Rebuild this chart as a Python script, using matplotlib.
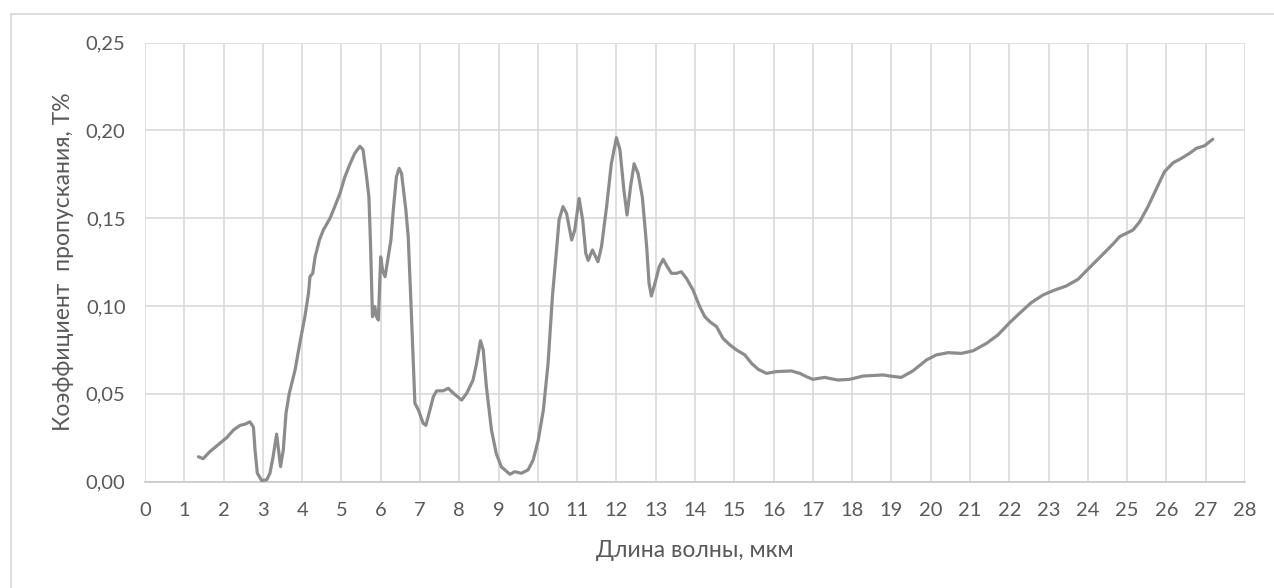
import matplotlib
matplotlib.use("Agg")
import matplotlib.pyplot as plt
from matplotlib.lines import Line2D

plt.rcParams['font.family'] = ['Lato', 'DejaVu Sans']

wavelength = [1.36, 1.48, 1.65, 1.91, 2.08, 2.25, 2.42, 2.54, 2.67, 2.76, 2.80, 2.86, 2.97, 3.10,
              3.18, 3.26, 3.35, 3.41, 3.45, 3.52, 3.59, 3.67, 3.82, 3.94, 4.07, 4.16, 4.20, 4.27,
              4.33, 4.44, 4.54, 4.71, 4.83, 4.96, 5.09, 5.22, 5.34, 5.47, 5.55, 5.64, 5.70, 5.74,
              5.79, 5.85, 5.89, 5.94, 6.00, 6.05, 6.11, 6.19, 6.26, 6.32, 6.40, 6.47, 6.53, 6.64,
              6.70, 6.77, 6.83, 6.87, 6.96, 7.08, 7.15, 7.25, 7.34, 7.42, 7.59, 7.72, 7.85, 8.06,
              8.19, 8.35, 8.44, 8.54, 8.61, 8.69, 8.82, 8.94, 9.07, 9.16, 9.29, 9.41, 9.58, 9.75,
              9.88, 10.01, 10.14, 10.26, 10.37, 10.46, 10.54, 10.64, 10.73, 10.86, 10.94, 11.05,
              11.14, 11.22, 11.28, 11.39, 11.53, 11.62, 11.75, 11.87, 12.00, 12.09, 12.19, 12.27,
              12.36, 12.45, 12.55, 12.66, 12.77, 12.83, 12.89, 12.98, 13.09, 13.19, 13.27, 13.40,
              13.53, 13.65, 13.78, 13.95, 14.12, 14.25, 14.38, 14.55, 14.71, 14.89, 15.06, 15.27,
              15.44, 15.61, 15.82, 16.07, 16.45, 16.67, 16.84, 17.00, 17.30, 17.64, 17.94, 18.28,
              18.79, 18.96, 19.25, 19.55, 19.89, 20.14, 20.44, 20.78, 21.08, 21.42, 21.71, 22.01,
              22.26, 22.56, 22.86, 23.11, 23.45, 23.75, 24.00, 24.34, 24.64, 24.81, 24.98, 25.15,
              25.32, 25.53, 25.74, 25.95, 26.17, 26.38, 26.59, 26.76, 26.97, 27.18]
transmission = [0.0141, 0.0130, 0.0170, 0.0218, 0.0250, 0.0293, 0.0320, 0.0326, 0.0340, 0.0310,
                0.0180, 0.0047, 0.0005, 0.0010, 0.0047, 0.0140, 0.0270, 0.0160, 0.0085, 0.0180,
                0.0390, 0.0500, 0.0635, 0.0787, 0.0939, 0.1070, 0.1167, 0.1186, 0.1280, 0.1376,
                0.1433, 0.1500, 0.1566, 0.1640, 0.1737, 0.1810, 0.1870, 0.1910, 0.1890, 0.1737,
                0.1620, 0.1357, 0.0939, 0.0996, 0.0940, 0.0920, 0.1280, 0.1200, 0.1167, 0.1280,
                0.1376, 0.1547, 0.1737, 0.1784, 0.1756, 0.1547, 0.1395, 0.1015, 0.0673, 0.0446,
                0.0407, 0.0332, 0.0320, 0.0407, 0.0483, 0.0516, 0.0517, 0.0531, 0.0503, 0.0464,
                0.0503, 0.0578, 0.0673, 0.0802, 0.0749, 0.0540, 0.0293, 0.0160, 0.0084, 0.0066,
                0.0041, 0.0056, 0.0047, 0.0066, 0.0122, 0.0236, 0.0407, 0.0673, 0.1053, 0.1280,
                0.1490, 0.1566, 0.1528, 0.1376, 0.1433, 0.1613, 0.1490, 0.1300, 0.1260, 0.1319,
                0.1252, 0.1338, 0.1566, 0.1810, 0.1959, 0.1890, 0.1660, 0.1518, 0.1680, 0.1810,
                0.1756, 0.1620, 0.1338, 0.1129, 0.1057, 0.1129, 0.1224, 0.1266, 0.1233, 0.1186,
                0.1186, 0.1195, 0.1158, 0.1091, 0.0996, 0.0939, 0.0910, 0.0882, 0.0816, 0.0778,
                0.0749, 0.0721, 0.0673, 0.0639, 0.0616, 0.0626, 0.0630, 0.0616, 0.0597, 0.0582,
                0.0593, 0.0578, 0.0582, 0.0601, 0.0607, 0.0601, 0.0593, 0.0631, 0.0692, 0.0721,
                0.0734, 0.0730, 0.0745, 0.0787, 0.0835, 0.0905, 0.0958, 0.1019, 0.1063, 0.1087,
                0.1114, 0.1152, 0.1209, 0.1285, 0.1353, 0.1395, 0.1414, 0.1433, 0.1480, 0.1566,
                0.1665, 0.1765, 0.1816, 0.1841, 0.1870, 0.1898, 0.1913, 0.1950]

x_ticks = list(range(0, 29))
y_ticks = [0.0, 0.05, 0.10, 0.15, 0.20, 0.25]
y_tick_labels = ['0,00', '0,05', '0,10', '0,15', '0,20', '0,25']
x_label = 'Длина волны, мкм'
y_label = 'Коэффициент  пропускания, Т%'

W, H = 1274, 588
L, R, T, B = 145.0, 1245.0, 42.7, 481.5
fig = plt.figure(figsize=(W / 100, H / 100), dpi=100)
ax = fig.add_axes([L / W, 1 - B / H, (R - L) / W, (B - T) / H])

text_color = '#595959'
grid_color = '#d9d9d9'

ax.plot(wavelength, transmission, color='#8c8c8c', lw=2.3, solid_joinstyle='round',
        solid_capstyle='round', zorder=3)

ax.set_xlim(0, 28)
ax.set_ylim(0, 0.25)
ax.set_xticks(x_ticks)
ax.set_xticklabels([str(t) for t in x_ticks])
ax.set_yticks(y_ticks)
ax.set_yticklabels(y_tick_labels)
ax.grid(True, color=grid_color, lw=1.2, zorder=0)
ax.set_axisbelow(True)
for s in ['top', 'right', 'left']:
    ax.spines[s].set_visible(False)
ax.spines['bottom'].set_color('#c8c8c8')
ax.spines['bottom'].set_linewidth(1.2)
ax.tick_params(axis='both', length=0, labelsize=14.5, colors=text_color)
ax.tick_params(axis='y', pad=14)
ax.tick_params(axis='x', pad=15)

ax.set_xlabel(x_label, fontsize=16.5, color=text_color)
ax.set_ylabel(y_label, fontsize=16.5, color=text_color)
ax.xaxis.set_label_coords(0.5, -(540 - B) / (B - T))
ax.yaxis.set_label_coords(-(L - 74) / (R - L), 0.5)

# outer chart frame (partially visible)
fig.add_artist(Line2D([11 / W, 11 / W], [0, 1 - 14 / H], transform=fig.transFigure,
                      color='#d9d9d9', lw=1.3))
fig.add_artist(Line2D([11 / W, 1], [1 - 14 / H, 1 - 14 / H], transform=fig.transFigure,
                      color='#d9d9d9', lw=1.3))

fig.savefig('out.png', dpi=100, facecolor='white')
